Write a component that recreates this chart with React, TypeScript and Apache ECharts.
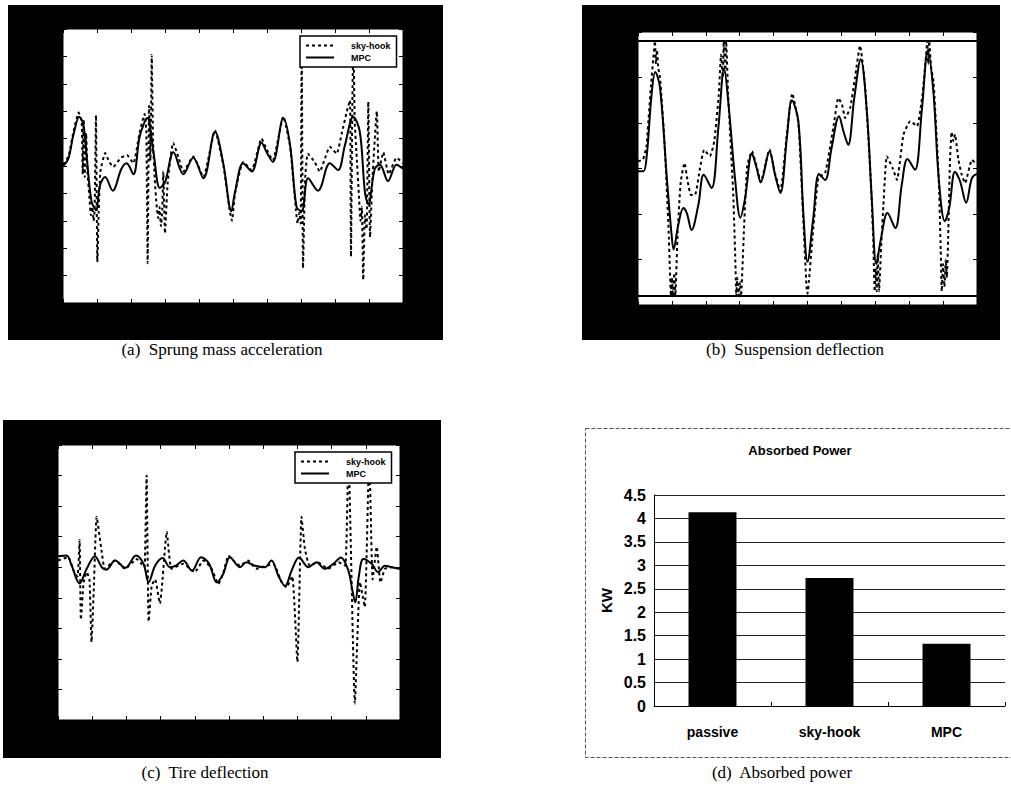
import React, { useEffect, useRef } from "react";
import * as echarts from "echarts";

// (a) sprung mass acceleration, [time, value]
const accelMPC: number[][] = [
  [0, 0], [0.16, 0.28], [0.3, 1.1], [0.48, 1.8], [0.6, 1.5], [0.7, 0.3], [0.84, -1.3], [0.97, -1.6],
  [1.09, -0.7], [1.24, -0.4], [1.46, -0.9], [1.72, -0.1], [1.87, 0.1], [2.07, -0.3], [2.26, 1.1],
  [2.48, 1.75], [2.66, 0.5], [2.85, -0.8], [3.0, -0.6], [3.25, 0.5], [3.54, -0.3], [3.83, 0.3],
  [4.13, -0.45], [4.47, 1.25], [4.72, 0.05], [4.95, -1.65], [5.06, -0.95], [5.3, 0.1], [5.55, -0.2],
  [5.84, 0.85], [5.99, 0.5], [6.17, 0.15], [6.48, 1.75], [6.68, 0.75], [6.87, -1.5], [7.02, -1.65],
  [7.21, -0.45], [7.5, -0.9], [7.85, 0.1], [8.09, -0.15], [8.29, 0.75], [8.54, 1.8], [8.73, 1.25],
  [8.88, -0.95], [8.98, -1.4], [9.17, -0.1], [9.32, 0.05], [9.56, -0.55], [9.81, 0.05], [10, -0.1],
];
const accelSky: number[][] = [
  [0, 0.05], [0.16, 0.35], [0.3, 1.2], [0.46, 1.95], [0.55, 1.6], [0.58, -0.3], [0.61, 1.7],
  [0.64, -0.4], [0.68, 1.2], [0.72, -0.2], [0.78, -1.2], [0.82, -1.8], [0.86, -1.5], [0.9, -2.0],
  [0.93, -1.6], [0.97, 1.85], [1.01, -3.5], [1.05, -1.7], [1.1, -0.2], [1.24, 0.47], [1.36, 0.15],
  [1.48, -0.03], [1.7, 0.3], [1.88, 0.4], [2.07, 0.1], [2.25, 1.2], [2.4, 1.9], [2.45, 1.3],
  [2.49, -3.55], [2.53, 2.2], [2.57, 0.2], [2.61, 4.05], [2.65, 0.8], [2.7, -0.5], [2.75, -1.4],
  [2.8, -1.9], [2.84, -1.5], [2.88, -2.2], [2.92, -1.6], [2.95, -0.2], [3.0, -2.46], [3.08, -0.6],
  [3.24, 0.85], [3.4, 0.3], [3.54, -0.2], [3.83, 0.35], [4.13, -0.4], [4.47, 1.3], [4.72, 0.0],
  [4.9, -1.6], [4.97, -2.0], [5.06, -1.0], [5.3, 0.15], [5.55, -0.15], [5.84, 1.0], [5.99, 0.6],
  [6.17, 0.2], [6.48, 1.8], [6.68, 0.7], [6.85, -1.6], [6.9, -2.1], [6.95, -1.7], [6.99, -2.1],
  [7.02, 4.6], [7.06, -3.73], [7.12, -0.5], [7.2, 0.45], [7.4, 0.15], [7.55, -0.2], [7.85, 0.7],
  [8.05, 0.45], [8.2, 1.2], [8.35, 2.0], [8.44, 2.4], [8.47, -3.3], [8.51, 2.3], [8.54, 4.6],
  [8.58, 1.6], [8.63, 0.5], [8.7, -1.0], [8.75, -2.0], [8.79, -1.5], [8.83, -4.16], [8.88, -1.8],
  [8.93, -2.3], [8.98, 2.35], [9.03, -2.6], [9.1, -0.5], [9.23, 2.0], [9.29, -0.2], [9.42, 0.5],
  [9.58, -0.3], [9.81, 0.3], [10, 0.1],
];

// (b) suspension deflection and its travel limits
const deflMPC: number[][] = [
  [0, -0.06], [0.16, -0.06], [0.26, 0.3], [0.4, 1.62], [0.51, 2.12], [0.65, 1.77], [0.85, -0.2],
  [0.99, -1.45], [1.05, -1.78], [1.19, -1.23], [1.34, -0.87], [1.44, -0.98], [1.58, -1.35],
  [1.78, -0.8], [1.94, -0.14], [2.17, -0.43], [2.37, 0.89], [2.54, 2.2], [2.68, 1.33], [2.86, -0.2],
  [3.02, -1.08], [3.16, -0.65], [3.36, 0.33], [3.5, 0.01], [3.62, -0.3], [3.88, 0.38], [4.04, -0.13],
  [4.2, -0.54], [4.39, 0.67], [4.54, 1.5], [4.73, 1.04], [4.88, -1.01], [5.0, -2.05], [5.17, -1.09],
  [5.34, -0.12], [5.52, -0.25], [5.71, 0.45], [5.93, 1.15], [6.06, 0.82], [6.2, 0.52], [6.38, 1.55],
  [6.57, 2.4], [6.75, 1.26], [6.9, -0.72], [7.03, -2.1], [7.17, -1.53], [7.36, -0.98], [7.59, -1.31],
  [7.78, -0.36], [7.95, 0.21], [8.17, -0.03], [8.37, 1.26], [8.55, 2.6], [8.72, 1.62], [8.87, -0.21],
  [9.05, -1.16], [9.18, -0.87], [9.35, -0.07], [9.5, -0.28], [9.68, -0.75], [9.85, -0.21], [10, -0.12],
];
const deflSky: number[][] = [
  [0, 0.16], [0.15, 0.2], [0.25, 0.5], [0.38, 1.8], [0.46, 2.5], [0.5, 2.8], [0.53, 2.3], [0.56, 2.6],
  [0.6, 2.2], [0.65, 2.0], [0.78, 0.6], [0.9, -1.3], [0.94, -2.2], [0.97, -2.8], [1.0, -2.4],
  [1.03, -2.8], [1.07, -2.3], [1.1, -2.8], [1.17, -1.4], [1.26, -0.3], [1.37, 0.12], [1.47, -0.3],
  [1.56, -0.58], [1.68, -0.58], [1.83, 0.01], [1.95, 0.41], [2.12, 0.27], [2.25, 0.6], [2.38, 1.6],
  [2.45, 2.5], [2.5, 2.0], [2.53, 2.8], [2.57, 2.1], [2.6, 2.8], [2.66, 1.6], [2.81, -0.58],
  [2.87, -2.0], [2.9, -2.8], [2.93, -2.4], [2.97, -2.8], [3.01, -2.5], [3.04, -2.8], [3.12, -1.45],
  [3.22, 0.05], [3.36, 0.38], [3.5, 0.05], [3.62, -0.3], [3.88, 0.42], [4.04, -0.1], [4.2, -0.5],
  [4.39, 0.75], [4.55, 1.65], [4.73, 1.0], [4.88, -1.2], [4.97, -2.6], [5.0, -2.75], [5.04, -2.5],
  [5.13, -1.67], [5.32, -0.2], [5.52, -0.1], [5.76, 0.89], [5.91, 1.55], [6.02, 1.4], [6.11, 1.11],
  [6.26, 1.33], [6.4, 1.99], [6.55, 2.7], [6.7, 1.8], [6.87, -0.3], [6.94, -1.6], [6.98, -2.7],
  [7.01, -2.2], [7.04, -2.7], [7.07, -1.9], [7.11, -2.7], [7.18, -1.6], [7.24, -0.8], [7.34, 0.27],
  [7.51, 0.01], [7.64, -0.25], [7.83, 0.74], [8.03, 1.04], [8.23, 0.93], [8.39, 1.62], [8.5, 2.5],
  [8.53, 2.8], [8.56, 2.3], [8.59, 2.8], [8.65, 2.2], [8.72, 1.9], [8.87, -0.2], [8.93, -1.8],
  [8.96, -2.7], [9.0, -2.1], [9.04, -2.6], [9.08, -2.0], [9.11, -2.4], [9.15, -1.5], [9.2, 0.1],
  [9.25, 0.8], [9.3, 0.6], [9.35, 0.75], [9.45, 0.2], [9.55, -0.14], [9.65, -0.32], [9.85, 0.19],
  [10, 0.08],
];
const deflLimits: number[] = [2.8, -2.8];

// (c) tire deflection
const tireMPC: number[][] = [
  [0, 0.36], [0.25, 0.38], [0.4, 0.05], [0.63, -0.53], [0.84, -0.05], [1.08, 0.36], [1.28, 0],
  [1.42, -0.08], [1.67, 0.22], [1.97, -0.02], [2.28, 0.38], [2.5, 0.11], [2.65, -0.49], [2.84, 0.05],
  [3.06, 0.3], [3.27, 0], [3.45, 0.05], [3.66, 0.22], [3.92, -0.11], [4.18, 0.33], [4.42, 0.11],
  [4.64, -0.5], [4.83, -0.22], [5.03, 0.33], [5.32, 0], [5.51, 0.16], [5.76, 0.05], [6.05, 0],
  [6.24, 0.22], [6.44, -0.27], [6.64, -0.62], [6.83, -0.11], [7.05, 0.32], [7.32, 0], [7.56, 0.16],
  [7.8, -0.05], [8.05, 0.11], [8.27, 0.32], [8.49, -0.11], [8.6, -0.71], [8.69, -1.15], [8.8, -0.27],
  [8.93, 0.27], [9.17, 0.11], [9.36, -0.16], [9.56, 0.05], [9.76, 0], [10, -0.05],
];
const tireSky: number[][] = [
  [0, 0.22], [0.3, 0.33], [0.45, -0.1], [0.57, -0.3], [0.63, 0.89], [0.67, -1.72], [0.75, -0.5],
  [0.84, -0.16], [0.92, -0.4], [0.98, -2.45], [1.05, -0.6], [1.13, 1.65], [1.28, 0.49], [1.37, -0.05],
  [1.67, 0.22], [1.96, -0.05], [2.3, 0.27], [2.45, 0.1], [2.53, 0.0], [2.59, 3.0], [2.65, -1.78],
  [2.74, -0.6], [2.84, -0.4], [2.98, -1.19], [3.05, -0.5], [3.18, 1.16], [3.32, -0.05], [3.66, 0.11],
  [4.0, -0.16], [4.25, 0.22], [4.49, -0.05], [4.69, -0.55], [4.83, -0.2], [4.98, 0.38], [5.08, 0.27],
  [5.32, 0.05], [5.56, 0.22], [5.8, -0.05], [6.1, 0.05], [6.3, 0.1], [6.54, -0.49], [6.68, -0.66],
  [6.85, -0.3], [7.0, -3.1], [7.12, 1.65], [7.22, 0.6], [7.36, 0.05], [7.6, 0.16], [7.9, -0.05],
  [8.2, 0.16], [8.4, 0.05], [8.49, 3.7], [8.68, -4.46], [8.83, -0.49], [8.97, -1.3], [9.1, 3.7],
  [9.2, -0.4], [9.32, 0.67], [9.43, -0.5], [9.56, -0.05], [9.76, 0], [10, -0.05],
];

// (d) absorbed power
const powerCategories: string[] = ["passive", "sky-hook", "MPC"];
const powerValues: number[] = [4.13, 2.73, 1.33];

const captions: string[] = [
  "(a)  Sprung mass acceleration",
  "(b)  Suspension deflection",
  "(c)  Tire deflection",
  "(d)  Absorbed power",
];

const serif = "'Liberation Serif', 'DejaVu Serif', serif";
const sans = "'Liberation Sans', Arial, sans-serif";

function frameX(gridIndex: number, position: "top" | "bottom") {
  return {
    type: "value",
    gridIndex,
    position,
    min: 0,
    max: 10,
    interval: 1,
    axisLine: { show: false, onZero: false },
    axisTick: { show: true, inside: true, length: 4, lineStyle: { color: "#000", width: 1 } },
    axisLabel: { show: false },
    splitLine: { show: false },
  };
}

function frameY(gridIndex: number, position: "left" | "right", min: number, max: number) {
  return {
    type: "value",
    gridIndex,
    position,
    min,
    max,
    interval: 1,
    axisLine: { show: false, onZero: false },
    axisTick: { show: true, inside: true, length: 4, lineStyle: { color: "#000", width: 1 } },
    axisLabel: { show: false },
    splitLine: { show: false },
  };
}

function skySeries(data: number[][], axis: number) {
  return {
    type: "line",
    name: "sky-hook",
    xAxisIndex: axis,
    yAxisIndex: axis,
    data,
    symbol: "none",
    showSymbol: false,
    smooth: 0.15,
    itemStyle: { color: "#000" },
    lineStyle: { color: "#000", width: 2, type: [3, 3] },
    z: 3,
  };
}

function mpcSeries(data: number[][], axis: number, extra: any = {}) {
  return {
    type: "line",
    name: "MPC",
    xAxisIndex: axis,
    yAxisIndex: axis,
    data,
    symbol: "none",
    showSymbol: false,
    smooth: 0.35,
    itemStyle: { color: "#000" },
    lineStyle: { color: "#000", width: 2 },
    z: 4,
    ...extra,
  };
}

function legendAt(left: number, top: number) {
  return {
    data: ["sky-hook", "MPC"],
    left,
    top,
    orient: "vertical",
    selectedMode: false,
    backgroundColor: "#fff",
    borderColor: "#000",
    borderWidth: 1.5,
    borderRadius: 0,
    padding: [5, 6, 5, 5],
    itemGap: 3,
    itemWidth: 28,
    itemHeight: 10,
    itemStyle: { opacity: 0 },
    textStyle: { fontSize: 9, fontWeight: "bold", color: "#000", fontFamily: sans, padding: [0, 0, 0, 12] },
    z: 10,
  };
}

const plotGrid = { show: true, backgroundColor: "#fff", borderColor: "#000", borderWidth: 1 };
const captionFont = `17px ${serif}`;
const barFont = { fontSize: 15, color: "#000", fontFamily: sans, fontWeight: "bold" as const };

export default function App() {
  const ref = useRef<HTMLDivElement>(null);

  useEffect(() => {
    if (!ref.current) return;
    const chart = echarts.init(ref.current, undefined, { renderer: "svg" });

    const option: any = {
      animation: false,
      backgroundColor: "#fff",
      grid: [
        { left: 63, top: 29, width: 340, height: 274, ...plotGrid },
        { left: 638, top: 32, width: 339, height: 273, ...plotGrid },
        { left: 58, top: 445, width: 342, height: 275, ...plotGrid },
        { left: 654, top: 495, width: 351, height: 211, show: false },
      ],
      xAxis: [
        frameX(0, "bottom"),
        frameX(0, "top"),
        frameX(1, "bottom"),
        frameX(1, "top"),
        frameX(2, "bottom"),
        frameX(2, "top"),
        {
          type: "category",
          gridIndex: 3,
          data: powerCategories,
          axisLine: { lineStyle: { color: "#000", width: 1 } },
          axisTick: { show: true, inside: true, length: 4, lineStyle: { color: "#000" } },
          axisLabel: { ...barFont, fontSize: 14, margin: 19 },
        },
      ],
      yAxis: [
        frameY(0, "left", -5, 5),
        frameY(0, "right", -5, 5),
        frameY(1, "left", -3, 3),
        frameY(1, "right", -3, 3),
        frameY(2, "left", -5, 4),
        frameY(2, "right", -5, 4),
        {
          type: "value",
          gridIndex: 3,
          min: 0,
          max: 4.5,
          interval: 0.5,
          name: "KW",
          nameLocation: "middle",
          nameGap: 40,
          nameTextStyle: { ...barFont },
          axisLine: { show: true, lineStyle: { color: "#000", width: 1 } },
          axisTick: { show: false },
          axisLabel: { ...barFont, fontSize: 16, margin: 8 },
          splitLine: { show: true, lineStyle: { color: "#222", width: 1 } },
        },
      ],
      legend: [legendAt(300, 36), legendAt(295, 452)],
      series: [
        skySeries(accelSky, 0),
        mpcSeries(accelMPC, 0),
        skySeries(deflSky, 2),
        mpcSeries(deflMPC, 2, {
          markLine: {
            silent: true,
            symbol: "none",
            label: { show: false },
            lineStyle: { color: "#000", width: 2, type: "solid" },
            data: deflLimits.map((v) => ({ yAxis: v })),
          },
        }),
        skySeries(tireSky, 4),
        mpcSeries(tireMPC, 4),
        {
          type: "bar",
          name: "Absorbed Power",
          xAxisIndex: 6,
          yAxisIndex: 6,
          data: powerValues,
          barWidth: "41%",
          itemStyle: { color: "#000" },
        },
      ],
      graphic: [
        { type: "rect", z: -10, shape: { x: 8, y: 5, width: 435, height: 335 }, style: { fill: "#000" } },
        { type: "rect", z: -10, shape: { x: 582, y: 5, width: 418, height: 335 }, style: { fill: "#000" } },
        { type: "rect", z: -10, shape: { x: 3, y: 420, width: 438, height: 338 }, style: { fill: "#000" } },
        {
          type: "rect",
          z: -10,
          shape: { x: 585.5, y: 428.5, width: 440, height: 329 },
          style: { fill: "none", stroke: "#555", lineWidth: 1, lineDash: [4, 2] },
        },
        {
          type: "text",
          x: 800,
          y: 450,
          style: {
            text: "Absorbed Power",
            align: "center",
            verticalAlign: "middle",
            fill: "#000",
            font: `bold 13px ${sans}`,
          },
        },
        {
          type: "text",
          x: 222,
          y: 349,
          style: { text: captions[0], align: "center", verticalAlign: "middle", fill: "#000", font: captionFont },
        },
        {
          type: "text",
          x: 795,
          y: 349,
          style: { text: captions[1], align: "center", verticalAlign: "middle", fill: "#000", font: captionFont },
        },
        {
          type: "text",
          x: 205,
          y: 772,
          style: { text: captions[2], align: "center", verticalAlign: "middle", fill: "#000", font: captionFont },
        },
        {
          type: "text",
          x: 782,
          y: 772,
          style: { text: captions[3], align: "center", verticalAlign: "middle", fill: "#000", font: captionFont },
        },
      ],
    };

    chart.setOption(option);
    return () => chart.dispose();
  }, []);

  return (
    <div
      ref={ref}
      style={{ position: "absolute", left: 0, top: 0, width: 1011, height: 799, background: "#fff" }}
    />
  );
}
